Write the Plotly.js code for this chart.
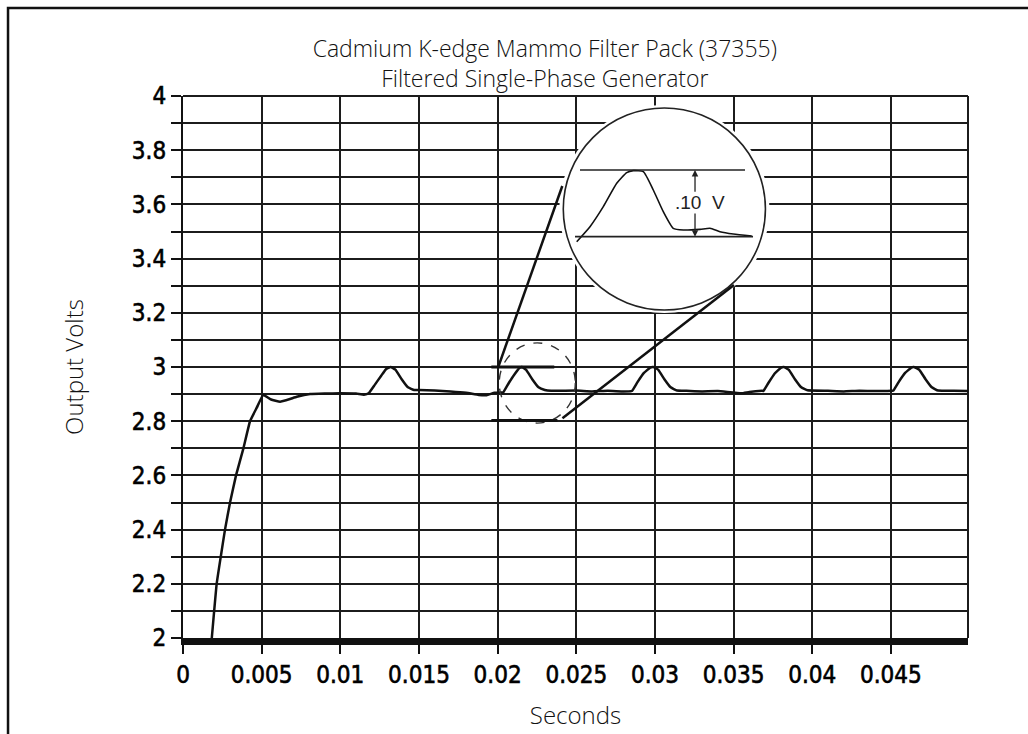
<!DOCTYPE html>
<html>
<head>
<meta charset="utf-8">
<script src="https://cdn.plot.ly/plotly-3.0.1.min.js"></script>
<style>
  html, body { margin: 0; padding: 0; background: #ffffff; }
  #chart { width: 1028px; height: 734px; }
  #chart .xtick text, #chart .ytick text {
    font-family: 'DejaVu Sans', sans-serif !important;
    font-stretch: condensed !important;
    stroke: #000000;
    stroke-width: 0.6px;
  }
</style>
</head>
<body>
<div id="chart"></div>
<script>
// ---- Data (seconds, output volts) ----
var timeSec = [0.00183, 0.00214, 0.0024, 0.00267, 0.00299, 0.00337, 0.00384, 0.00426, 0.00469, 0.0051,
  0.0056, 0.00617, 0.0068, 0.00723, 0.00808, 0.0090, 0.0100, 0.0110, 0.0115,
  0.0118, 0.0122, 0.0126, 0.0129, 0.0132, 0.0135, 0.0139, 0.0143, 0.0147, 0.0150,
  0.0160, 0.0170, 0.0180, 0.0188, 0.0193, 0.0198, 0.0202,
  0.02035, 0.0207, 0.0211, 0.0214, 0.02155, 0.0218, 0.0222, 0.0226, 0.0230, 0.0234,
  0.0250, 0.0260, 0.0270, 0.0280, 0.0285,
  0.02855, 0.0289, 0.0293, 0.0297, 0.0299, 0.0302, 0.0306, 0.0310, 0.0314,
  0.0320, 0.0330, 0.0340, 0.0355, 0.0360, 0.0368,
  0.0369, 0.0372, 0.0376, 0.0380, 0.0382, 0.0385, 0.0389, 0.0393, 0.0397,
  0.0410, 0.0420, 0.0430, 0.0440, 0.0451,
  0.04516, 0.0455, 0.0459, 0.0463, 0.04645, 0.0468, 0.0472, 0.0476, 0.0480,
  0.0490, 0.0499];
var outputVolts = [2.0, 2.2, 2.3, 2.4, 2.5, 2.6, 2.7, 2.8, 2.85, 2.897,
  2.88, 2.872, 2.882, 2.89, 2.9, 2.902, 2.903, 2.902, 2.898,
  2.903, 2.935, 2.968, 2.992, 3.0, 2.99, 2.955, 2.925, 2.915, 2.915,
  2.913, 2.91, 2.905, 2.897, 2.896, 2.905, 2.906,
  2.906, 2.94, 2.975, 2.997, 3.0, 2.99, 2.955, 2.925, 2.915, 2.912,
  2.913, 2.91, 2.912, 2.91, 2.911,
  2.912, 2.945, 2.978, 2.998, 3.0, 2.99, 2.955, 2.925, 2.913,
  2.912, 2.91, 2.911, 2.903, 2.908, 2.912,
  2.912, 2.94, 2.975, 2.997, 3.0, 2.99, 2.955, 2.925, 2.914,
  2.912, 2.91, 2.912, 2.911, 2.912,
  2.913, 2.945, 2.978, 2.998, 3.0, 2.99, 2.955, 2.925, 2.913,
  2.912, 2.911];

// magnified ripple shown inside the circle
var insetTime = [0.020038, 0.020333, 0.020629, 0.020927, 0.021149, 0.021296, 0.021518, 0.021740,
  0.021962, 0.022184, 0.022407, 0.022778, 0.023000, 0.023222, 0.023518, 0.023927];
var insetVolts = [2.8925, 2.915, 2.945, 2.98, 2.996, 2.999, 2.9975, 2.97,
  2.9375, 2.9125, 2.91, 2.911, 2.9125, 2.9075, 2.904, 2.901];

var xTickVals = [0, 0.005, 0.01, 0.015, 0.02, 0.025, 0.03, 0.035, 0.04, 0.045];
var xTickText = ['0', '0.005', '0.01', '0.015', '0.02', '0.025', '0.03', '0.035', '0.04', '0.045'];
var yTickVals = [2, 2.2, 2.4, 2.6, 2.8, 3, 3.2, 3.4, 3.6, 3.8, 4];
var yTickText = ['2', '2.2', '2.4', '2.6', '2.8', '3', '3.2', '3.4', '3.6', '3.8', '4'];

var rippleLabel = '.10  V';

// ---- Styles ----
var ink = '#111111';
var gridInk = '#1c1c1c';
var tickFont = { family: 'DejaVu Sans, sans-serif', size: 24, color: '#000000' };
var textFont = { family: 'Open Sans, Noto Sans, sans-serif', size: 24, color: '#111111', weight: 300 };

var traces = [
  { x: timeSec, y: outputVolts, type: 'scatter', mode: 'lines',
    line: { color: ink, width: 2.5, shape: 'spline', smoothing: 0.3 }, hoverinfo: 'x+y', showlegend: false },
  { x: insetTime, y: insetVolts, type: 'scatter', mode: 'lines', xaxis: 'x2', yaxis: 'y2',
    line: { color: ink, width: 1.6, shape: 'spline', smoothing: 0.5 }, hoverinfo: 'skip', showlegend: false }
];

var layout = {
  width: 1028, height: 734,
  margin: { l: 183, r: 60, t: 96, b: 96 },
  paper_bgcolor: '#ffffff',
  plot_bgcolor: 'rgba(0,0,0,0)',
  showlegend: false,
  title: {
    text: 'Cadmium K-edge Mammo Filter Pack (37355)<br>Filtered Single-Phase Generator',
    font: { family: textFont.family, size: 23, color: '#111111', weight: 300 },
    x: 0.530, xanchor: 'center', xref: 'container',
    y: 0.922, yanchor: 'top', yref: 'container'
  },
  xaxis: {
    range: [0, 0.0499], tickmode: 'array', tickvals: xTickVals, ticktext: xTickText,
    showgrid: true, gridcolor: gridInk, gridwidth: 2, zeroline: false,
    showline: true, linecolor: ink, linewidth: 7,
    ticks: 'outside', ticklen: 9, tickwidth: 2, tickcolor: ink,
    tickfont: tickFont,
    title: { text: 'Seconds', font: textFont, standoff: 22 }
  },
  yaxis: {
    range: [2, 4], tickmode: 'array', tickvals: yTickVals, ticktext: yTickText,
    showgrid: true, gridcolor: gridInk, gridwidth: 2, zeroline: false,
    showline: true, linecolor: ink, linewidth: 2,
    ticks: 'outside', ticklen: 10, tickwidth: 2, tickcolor: ink,
    tickfont: tickFont,
    minor: { dtick: 0.1, tick0: 2, showgrid: true, gridcolor: gridInk, gridwidth: 2,
             ticks: 'outside', ticklen: 10, tickwidth: 2, tickcolor: ink },
    title: { text: 'Output Volts', font: textFont, standoff: 38 }
  },
  xaxis2: { domain: [0.49936, 0.72866], range: [0.0200, 0.0240], anchor: 'y2',
            visible: false, showgrid: false, zeroline: false, fixedrange: true },
  yaxis2: { domain: [0.71587, 0.88192], range: [2.88, 3.015], anchor: 'x2',
            visible: false, showgrid: false, zeroline: false, fixedrange: true },
  shapes: [
    { type: 'rect', xref: 'paper', yref: 'paper', x0: -0.2229, x1: 1.3, y0: -0.4, y1: 1.1624,
      line: { color: '#111111', width: 2.5 }, layer: 'above' },
    { type: 'line', xref: 'paper', yref: 'paper', x0: 0, x1: 1, y0: 1, y1: 1,
      line: { color: gridInk, width: 2 }, layer: 'between' },
    { type: 'line', xref: 'paper', yref: 'paper', x0: 1, x1: 1, y0: 0, y1: 1,
      line: { color: gridInk, width: 2 }, layer: 'between' },
    { type: 'circle', xref: 'x', yref: 'y', x0: 0.02392, x1: 0.03728, y0: 3.199, y1: 3.967,
      fillcolor: '#ffffff', line: { width: 0 }, layer: 'between' },
    { type: 'circle', xref: 'x', yref: 'y', x0: 0.024173, x1: 0.037023, y0: 3.2103, y1: 3.9557,
      line: { color: '#222222', width: 1.6 }, layer: 'above' },
    { type: 'circle', xref: 'x', yref: 'y', x0: 0.0201, x1: 0.02494, y0: 2.793, y1: 3.089,
      line: { color: '#333333', width: 1.4, dash: 'dash' }, layer: 'above' },
    { type: 'line', xref: 'x', yref: 'y', x0: 0.0196, x1: 0.0236, y0: 3.0, y1: 3.0,
      line: { color: ink, width: 3 }, layer: 'above' },
    { type: 'line', xref: 'x', yref: 'y', x0: 0.0196, x1: 0.0238, y0: 2.803, y1: 2.803,
      line: { color: ink, width: 3 }, layer: 'above' },
    { type: 'line', xref: 'x', yref: 'y', x0: 0.02004, x1: 0.02411, y0: 3.0, y1: 3.668,
      line: { color: ink, width: 2.5 }, layer: 'above' },
    { type: 'line', xref: 'x', yref: 'y', x0: 0.02412, x1: 0.03502, y0: 2.811, y1: 3.303,
      line: { color: ink, width: 2.5 }, layer: 'above' },
    { type: 'line', xref: 'x2', yref: 'y2', x0: 0.020111, x1: 0.023778, y0: 3.0, y1: 3.0,
      line: { color: '#222222', width: 1.6 }, layer: 'above' },
    { type: 'line', xref: 'x2', yref: 'y2', x0: 0.0200, x1: 0.023956, y0: 2.9, y1: 2.9,
      line: { color: '#222222', width: 1.8 }, layer: 'above' }
  ],
  annotations: [
    { xref: 'x2', yref: 'y2', axref: 'x2', ayref: 'y2', x: 0.022667, y: 3.0, ax: 0.022667, ay: 2.965,
      text: '', showarrow: true, arrowhead: 2, arrowsize: 1, arrowwidth: 1.3, arrowcolor: '#222222' },
    { xref: 'x2', yref: 'y2', axref: 'x2', ayref: 'y2', x: 0.022667, y: 2.9, ax: 0.022667, ay: 2.937,
      text: '', showarrow: true, arrowhead: 2, arrowsize: 1, arrowwidth: 1.3, arrowcolor: '#222222' },
    { xref: 'x2', yref: 'y2', x: 0.022778, y: 2.9516, text: rippleLabel, showarrow: false,
      font: { family: 'Liberation Sans, Arial, sans-serif', size: 19, color: '#222222' } }
  ]
};

Plotly.newPlot('chart', traces, layout, { staticPlot: true, displayModeBar: false });
</script>
</body>
</html>
